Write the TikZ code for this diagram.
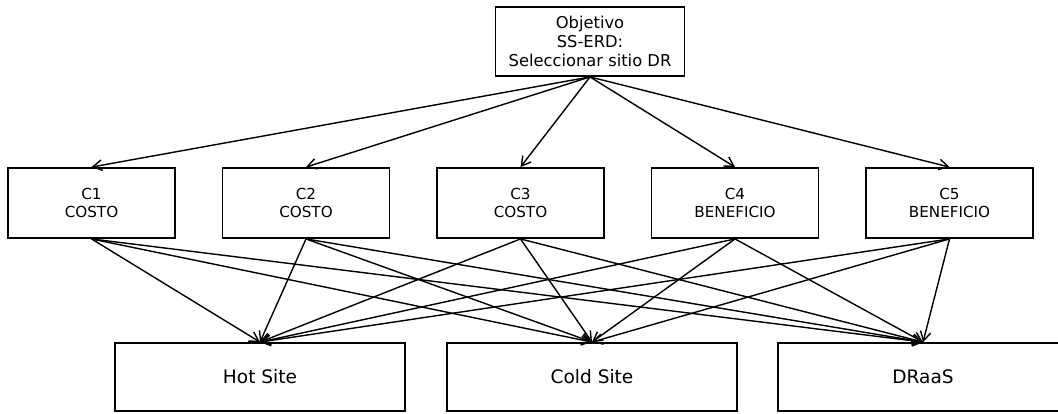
\documentclass[tikz,border=0pt]{standalone}
\usepackage{fontspec}
\setmainfont{DejaVu Sans}
\usetikzlibrary{arrows.meta}

\begin{document}
\begin{tikzpicture}[x=0.025cm, y=-0.025cm,
    goal/.style={draw, line width=1.3pt, minimum width=4.725cm, minimum height=1.725cm, align=center, font=\fontsize{11.6}{13.5}\selectfont},
    crit/.style={draw, line width=1.3pt, minimum width=4.175cm, minimum height=1.75cm, align=center, font=\fontsize{10.8}{12.8}\selectfont},
    alt/.style={draw, line width=1.3pt, minimum width=7.25cm, minimum height=1.7cm, font=\fontsize{13.2}{15}\selectfont},
    link/.style={line width=1pt, -{Straight Barb[length=6.5pt,width=7.5pt]}}]
    \useasboundingbox (0,0) rectangle (1058,414);
    \node[goal] at (590,41.5) (O) {Objetivo\\SS-ERD:\\Seleccionar sitio DR};
    \node[crit] at (91.5,203) (C1) {C1\\COSTO};
    \node[crit] at (306,203) (C2) {C2\\COSTO};
    \node[crit] at (520.5,203) (C3) {C3\\COSTO};
    \node[crit] at (735,203) (C4) {C4\\BENEFICIO};
    \node[crit] at (949.5,203) (C5) {C5\\BENEFICIO};
    \node[alt] at (260,377) (H) {Hot Site};
    \node[alt] at (592,377) (K) {Cold Site};
    \node[alt] at (923,377) (D) {DRaaS};
    % objetivo -> criterios
    \draw[link] (O.south) -- (C1.north);
    \draw[link] (O.south) -- (C2.north);
    \draw[link] (O.south) -- (C3.north);
    \draw[link] (O.south) -- (C4.north);
    \draw[link] (O.south) -- (C5.north);
    % criterios -> alternativas
    \draw[link] (C1.south) -- (H.north);
    \draw[link] (C1.south) -- (K.north);
    \draw[link] (C1.south) -- (D.north);
    \draw[link] (C2.south) -- (H.north);
    \draw[link] (C2.south) -- (K.north);
    \draw[link] (C2.south) -- (D.north);
    \draw[link] (C3.south) -- (H.north);
    \draw[link] (C3.south) -- (K.north);
    \draw[link] (C3.south) -- (D.north);
    \draw[link] (C4.south) -- (H.north);
    \draw[link] (C4.south) -- (K.north);
    \draw[link] (C4.south) -- (D.north);
    \draw[link] (C5.south) -- (H.north);
    \draw[link] (C5.south) -- (K.north);
    \draw[link] (C5.south) -- (D.north);
\end{tikzpicture}
\end{document}
